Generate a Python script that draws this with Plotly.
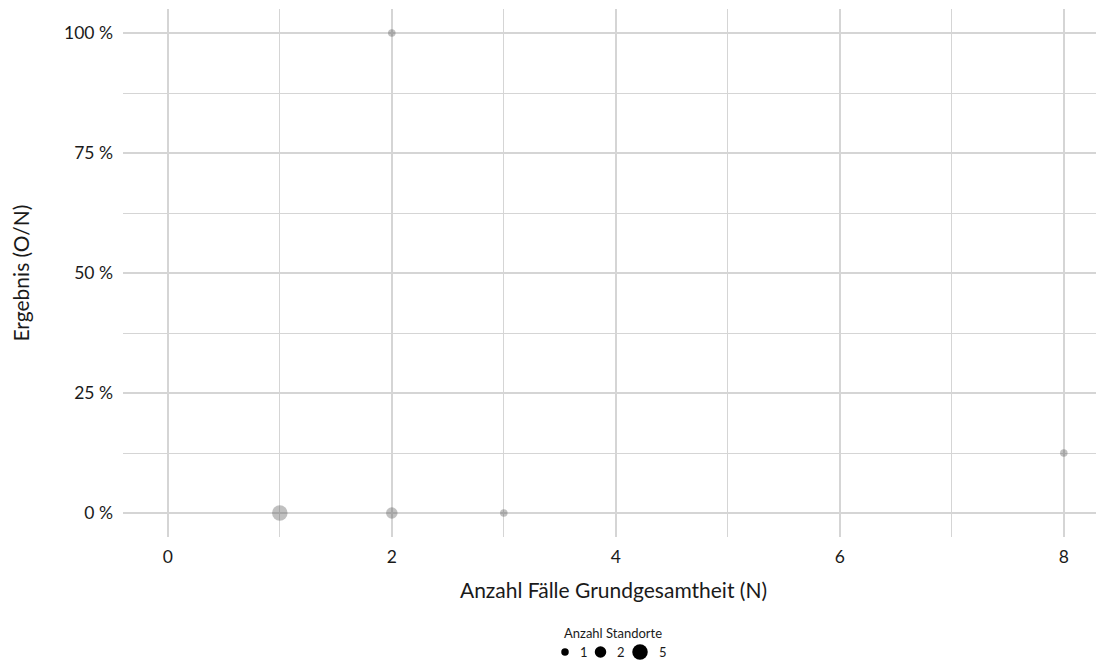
import plotly.graph_objects as go

# Data
n_cases = [1, 2, 3, 2, 8]              # Anzahl Fälle Grundgesamtheit (N)
result = [0.0, 0.0, 0.0, 1.0, 0.125]   # Ergebnis (O/N)
n_sites = [5, 2, 1, 1, 1]              # Anzahl Standorte

legend_sizes = [1, 2, 5]
x_ticks = [0, 2, 4, 6, 8]
y_ticks = [0, 0.25, 0.5, 0.75, 1.0]
y_ticklabels = ["0 %", "25 %", "50 %", "75 %", "100 %"]

SIZE_PX = {1: 7.5, 2: 11.5, 5: 15.5}

FONT = "Lato"
GRID = "#d5d5d5"
TXT = "#1a1a1a"

W, H = 1096, 656
L, R, T, B = 115, 0, 1, 127
PW, PH = W - L - R, H - T - B

fig = go.Figure()
fig.add_trace(go.Scatter(
    x=n_cases, y=result, mode="markers",
    marker=dict(size=[SIZE_PX[s] for s in n_sites], color="rgba(90,90,90,0.55)", line=dict(width=0)),
    showlegend=False, hoverinfo="x+y",
))

# Manual size legend (below the panel, centered)
def px_to_paper_x(px):
    return px / PW

def px_to_paper_y(py_below):
    return -py_below / PH

center_px = PW / 2 - 0.5
title_y = px_to_paper_y(96)
item_y = px_to_paper_y(115)
fig.add_annotation(x=px_to_paper_x(center_px), y=title_y, xref="paper", yref="paper",
                   text="Anzahl Standorte", showarrow=False, xanchor="center", yanchor="middle",
                   font=dict(size=13, family=FONT, color=TXT))

gap_dot_text = 9
label_w = 8
gap_entry = 9
widths = [SIZE_PX[s] + gap_dot_text + label_w for s in legend_sizes]
total = sum(widths) + gap_entry * (len(widths) - 1)
cursor = center_px - total / 2
for s, w in zip(legend_sizes, widths):
    d = SIZE_PX[s]
    cx = cursor + d / 2
    fig.add_shape(type="circle", xref="paper", yref="paper",
                  xsizemode="pixel", ysizemode="pixel",
                  xanchor=px_to_paper_x(cx), yanchor=item_y,
                  x0=-d / 2, x1=d / 2, y0=-d / 2, y1=d / 2,
                  fillcolor="black", line=dict(width=0))
    fig.add_annotation(x=px_to_paper_x(cursor + d + gap_dot_text), y=item_y,
                       xref="paper", yref="paper", text=str(s), showarrow=False,
                       xanchor="left", yanchor="middle",
                       font=dict(size=13, family=FONT, color=TXT))
    cursor += w + gap_entry

fig.update_layout(
    width=W, height=H,
    paper_bgcolor="white", plot_bgcolor="white",
    margin=dict(l=L, r=R, t=T, b=B),
    font=dict(family=FONT, color=TXT),
    showlegend=False,
    xaxis=dict(
        range=[-0.4, -0.4 + PW / 112.0], tickvals=x_ticks, showgrid=True,
        gridcolor=GRID, gridwidth=1.5, zeroline=False, showline=False, ticks="",
        tickfont=dict(size=17.5, color=TXT), ticklabelstandoff=7,
        minor=dict(tickvals=[1, 3, 5, 7], showgrid=True, gridcolor=GRID, gridwidth=1.3),
        title=dict(text="Anzahl Fälle Grundgesamtheit (N)", font=dict(size=21), standoff=17),
    ),
    yaxis=dict(
        range=[-0.05, 1.05], tickvals=y_ticks, ticktext=y_ticklabels, showgrid=True,
        gridcolor=GRID, gridwidth=1.5, zeroline=False, showline=False, ticks="",
        tickfont=dict(size=17.5, color=TXT), ticklabelstandoff=9,
        minor=dict(tickvals=[0.125, 0.375, 0.625, 0.875], showgrid=True, gridcolor=GRID, gridwidth=1.3),
        title=dict(text="Ergebnis (O/N)", font=dict(size=21), standoff=30),
    ),
)

fig.write_html("out.html")
